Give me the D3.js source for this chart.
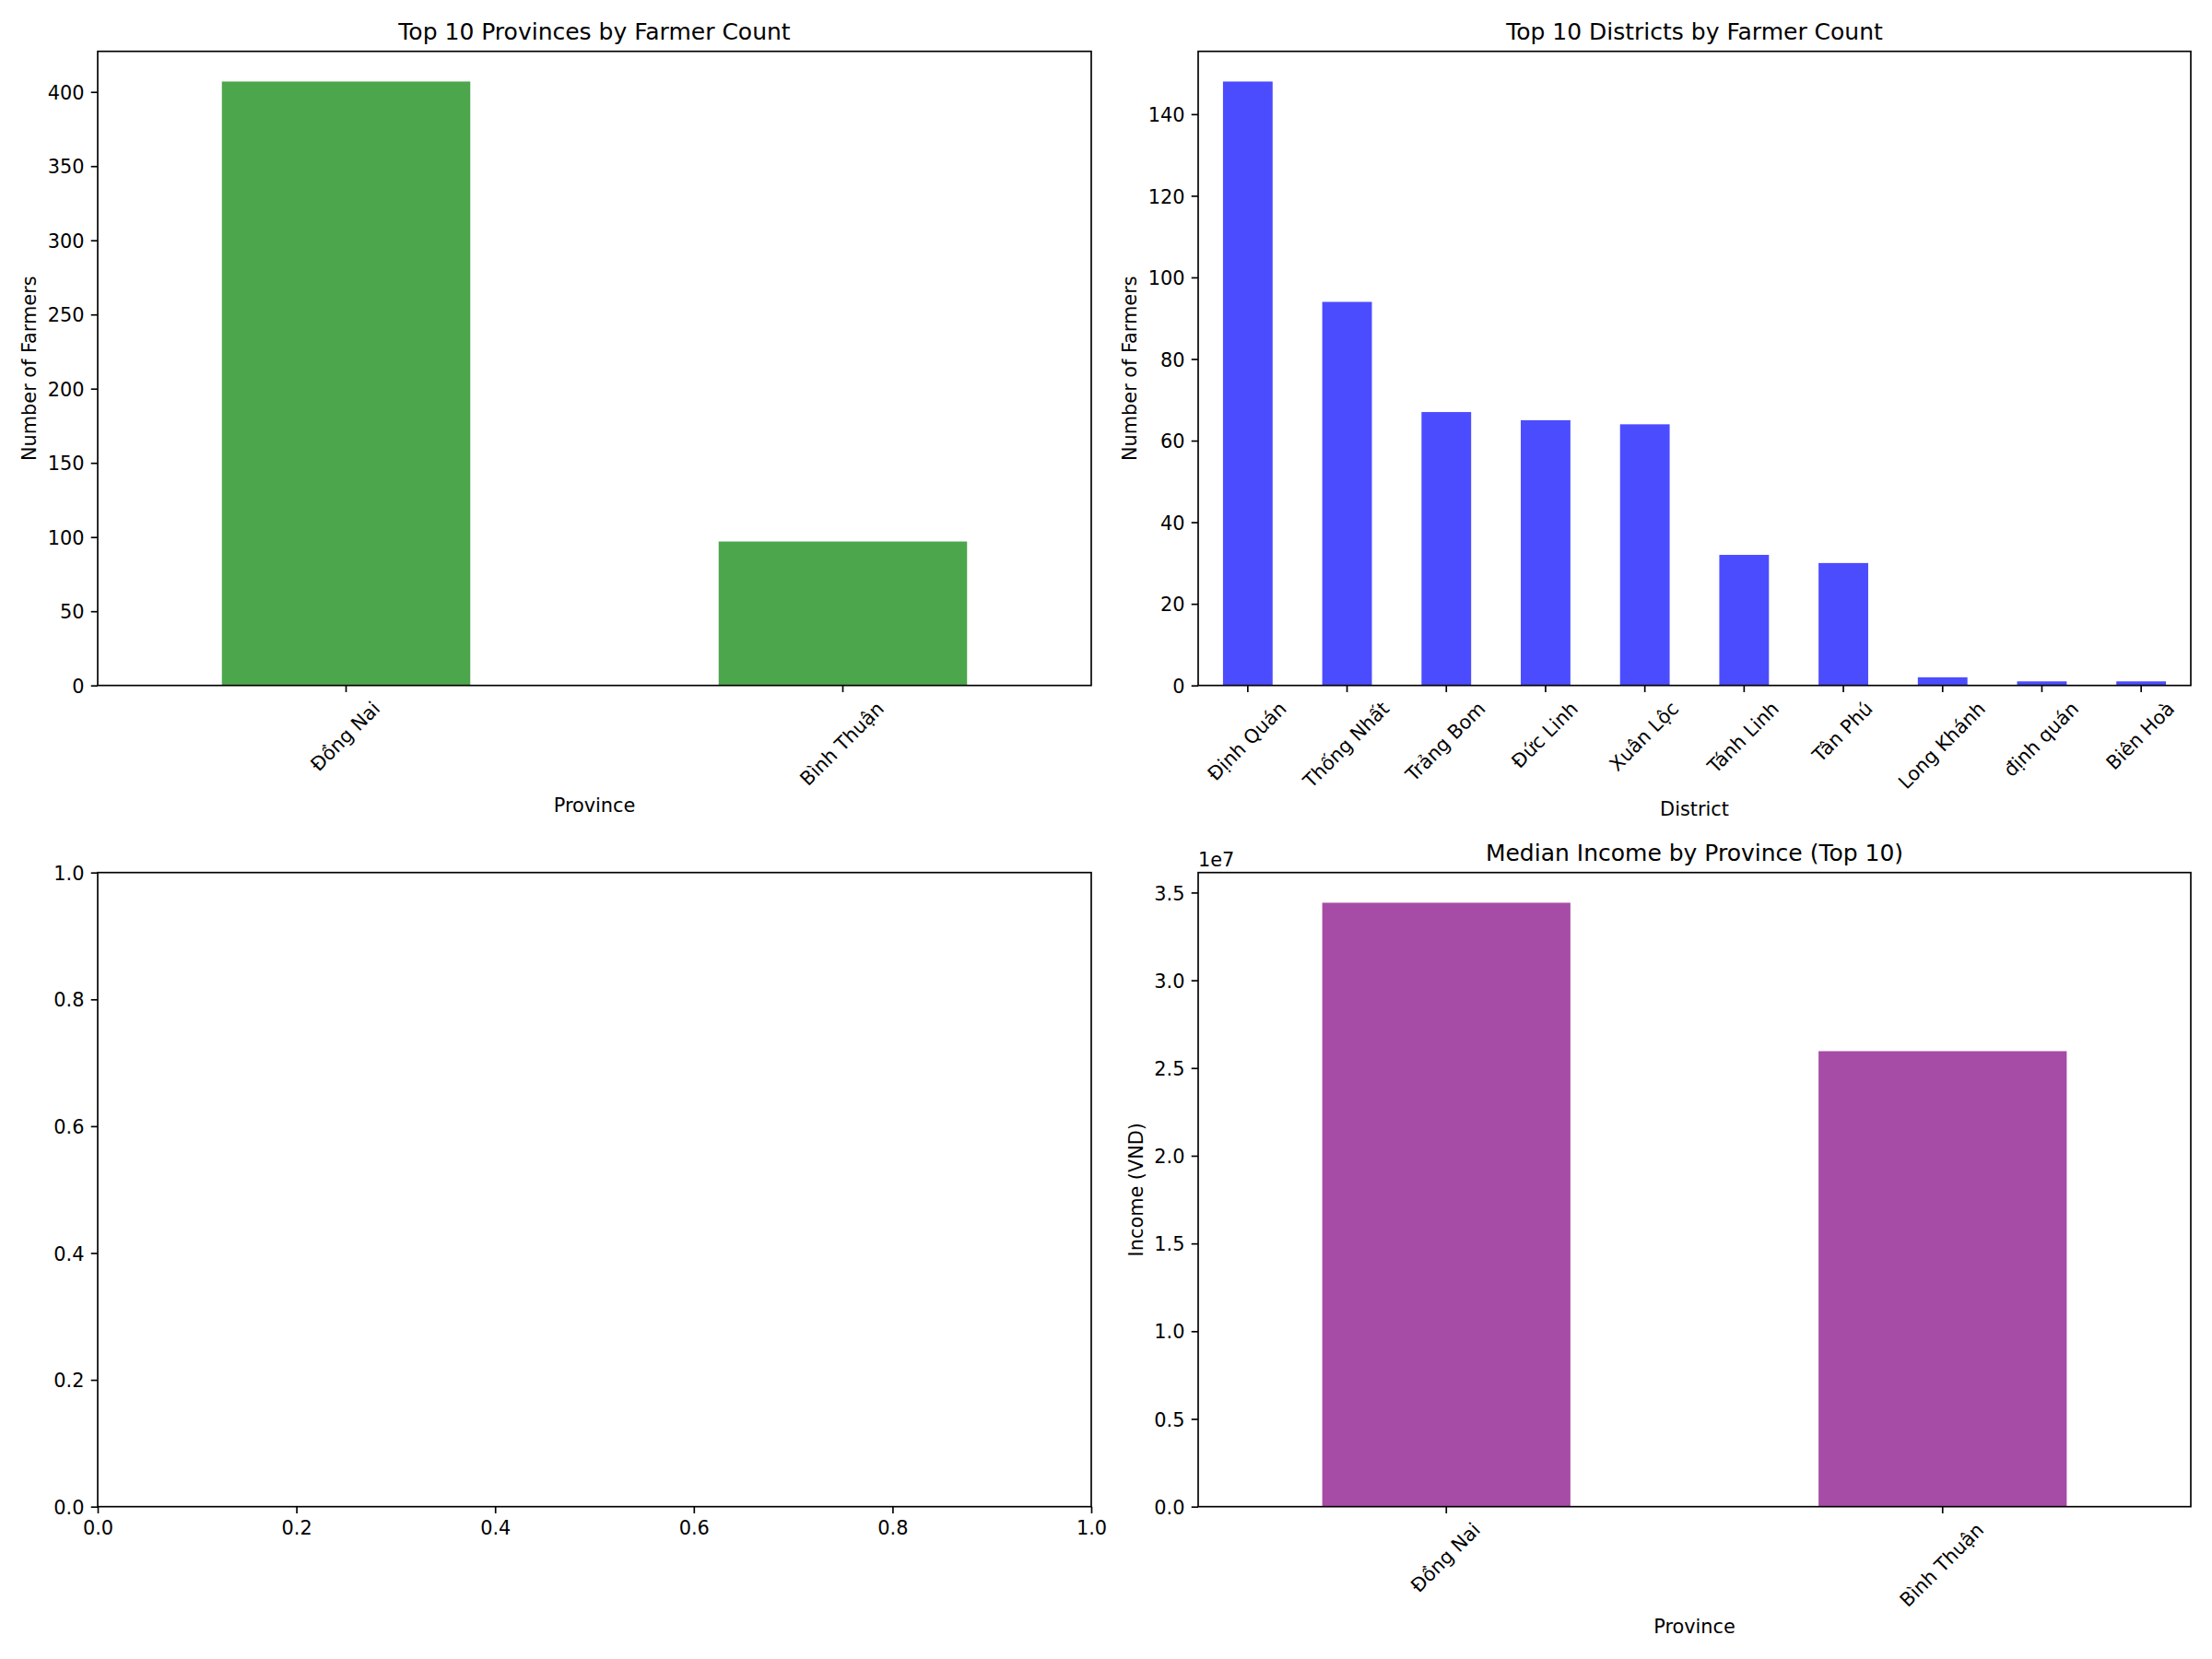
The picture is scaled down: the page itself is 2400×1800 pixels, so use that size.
<!DOCTYPE html>
<html lang="en">
<head>
    <meta charset="UTF-8">
    <script src="https://d3js.org/d3.v7.min.js"></script>
    <title>Farmer Summary</title>
    <style>
        body { margin: 0; background: white; }
        svg { display: block; }
        text { font-family: "DejaVu Sans", sans-serif; fill: black; }
    </style>
</head>
<body>
    <div id="chart"></div>
    <script>
        // data
        const provinceNames = ["Đồng Nai", "Bình Thuận"];
        const provinceCounts = [407, 97];

        const districtNames = ["Định Quán", "Thống Nhất", "Trảng Bom", "Đức Linh", "Xuân Lộc",
            "Tánh Linh", "Tân Phú", "Long Khánh", "định quán", "Biên Hoà"];
        const districtCounts = [148, 94, 67, 65, 64, 32, 30, 2, 1, 1];

        const incomeProvinces = ["Đồng Nai", "Bình Thuận"];
        const medianIncome = [34420000, 25960000];

        const emptyTicks = [0, 0.2, 0.4, 0.6, 0.8, 1.0];

        // matplotlib at 150 dpi
        const px = pt => pt * 150 / 72;
        const FS = px(10);
        const TITLE_FS = px(12);
        const TICK = px(3.5);
        const LW = px(0.8);
        const LABELPAD = px(4);

        const svg = d3.select("#chart").append("svg")
            .attr("width", 2400)
            .attr("height", 1800);
        svg.append("rect").attr("width", 2400).attr("height", 1800).attr("fill", "white");

        const cols = [[106, 1184], [1300, 2377]];
        const rows = [[55.7, 743.7], [946.7, 1634.7]];

        const drawPanel = (cfg) => {
            const [x0, x1] = cfg.cols;
            const [y0, y1] = cfg.rows;
            const g = svg.append("g");

            let x, y;
            if (cfg.cats) {
                x = d3.scaleBand().domain(cfg.cats).range([x0, x1])
                    .paddingInner(0.5).paddingOuter(0.25);
                y = d3.scaleLinear().domain([0, d3.max(cfg.vals) * 1.05]).range([y1, y0]);

                g.selectAll("rect.bar")
                    .data(cfg.cats)
                    .enter()
                    .append("rect")
                    .attr("class", "bar")
                    .attr("x", d => x(d))
                    .attr("width", x.bandwidth())
                    .attr("y", (d, i) => y(cfg.vals[i]))
                    .attr("height", (d, i) => y1 - y(cfg.vals[i]))
                    .attr("fill", cfg.color)
                    .attr("fill-opacity", 0.7);
            } else {
                x = d3.scaleLinear().domain([0, 1]).range([x0, x1]);
                y = d3.scaleLinear().domain([0, 1]).range([y1, y0]);
            }

            // y axis
            const yAxis = d3.axisLeft(y)
                .tickSizeInner(TICK).tickSizeOuter(0).tickPadding(TICK)
                .tickFormat(cfg.yFormat);
            if (cfg.yTicks) yAxis.tickValues(cfg.yTicks); else yAxis.ticks(8);
            const gy = g.append("g")
                .attr("transform", `translate(${x0},0)`)
                .call(yAxis)
                .attr("font-family", "DejaVu Sans")
                .attr("font-size", FS);
            gy.select(".domain").remove();
            gy.selectAll("line").attr("stroke", "black").attr("stroke-width", LW);
            gy.selectAll("text").attr("dy", "0.365em");
            let maxW = 0;
            gy.selectAll("text").each(function () {
                maxW = Math.max(maxW, this.getComputedTextLength());
            });

            // x axis
            let xAxis;
            if (cfg.cats) {
                xAxis = d3.axisBottom(x).tickSizeInner(TICK).tickSizeOuter(0).tickPadding(TICK);
            } else {
                xAxis = d3.axisBottom(x).tickValues(cfg.xTicks).tickFormat(d3.format(".1f"))
                    .tickSizeInner(TICK).tickSizeOuter(0).tickPadding(TICK);
            }
            const gx = g.append("g")
                .attr("transform", `translate(0,${y1})`)
                .call(xAxis)
                .attr("font-family", "DejaVu Sans")
                .attr("font-size", FS);
            gx.select(".domain").remove();
            gx.selectAll("line").attr("stroke", "black").attr("stroke-width", LW);

            let maxH = FS * 0.968;
            if (cfg.cats) {
                const hBox = FS * 1.05;
                gx.selectAll("text").each(function () {
                    const w = this.getComputedTextLength();
                    const H = (w + hBox) * Math.SQRT1_2;
                    maxH = Math.max(maxH, H);
                    d3.select(this)
                        .attr("y", null)
                        .attr("dy", "0.28em")
                        .attr("transform", `translate(0,${2 * TICK + H / 2}) rotate(-45)`);
                });
            } else {
                gx.selectAll("text").attr("y", 2 * TICK).attr("dy", "0.76em");
            }

            // frame
            g.append("rect")
                .attr("x", x0).attr("y", y0)
                .attr("width", x1 - x0).attr("height", y1 - y0)
                .attr("fill", "none")
                .attr("stroke", "black")
                .attr("stroke-width", LW);

            if (cfg.title) {
                g.append("text")
                    .attr("x", (x0 + x1) / 2)
                    .attr("y", y0 - px(6))
                    .attr("text-anchor", "middle")
                    .attr("font-size", TITLE_FS)
                    .text(cfg.title);
            }
            if (cfg.xlabel) {
                g.append("text")
                    .attr("x", (x0 + x1) / 2)
                    .attr("y", y1 + 2 * TICK + maxH + LABELPAD + FS * 0.76)
                    .attr("text-anchor", "middle")
                    .attr("font-size", FS)
                    .text(cfg.xlabel);
            }
            if (cfg.ylabel) {
                const bx = x0 - 2 * TICK - maxW - LABELPAD - FS * 0.208;
                g.append("text")
                    .attr("transform", `translate(${bx},${(y0 + y1) / 2}) rotate(-90)`)
                    .attr("text-anchor", "middle")
                    .attr("font-size", FS)
                    .text(cfg.ylabel);
            }
            if (cfg.offset) {
                g.append("text")
                    .attr("x", x0)
                    .attr("y", y0 - 6.7)
                    .attr("font-size", FS)
                    .text(cfg.offset);
            }
        };

        drawPanel({
            cols: cols[0], rows: rows[0],
            cats: provinceNames, vals: provinceCounts, color: "green",
            title: "Top 10 Provinces by Farmer Count",
            xlabel: "Province", ylabel: "Number of Farmers",
            yFormat: d3.format("d")
        });

        drawPanel({
            cols: cols[1], rows: rows[0],
            cats: districtNames, vals: districtCounts, color: "blue",
            title: "Top 10 Districts by Farmer Count",
            xlabel: "District", ylabel: "Number of Farmers",
            yFormat: d3.format("d")
        });

        drawPanel({
            cols: cols[0], rows: rows[1],
            xTicks: emptyTicks, yTicks: emptyTicks,
            yFormat: d3.format(".1f")
        });

        drawPanel({
            cols: cols[1], rows: rows[1],
            cats: incomeProvinces, vals: medianIncome, color: "purple",
            title: "Median Income by Province (Top 10)",
            xlabel: "Province", ylabel: "Income (VND)",
            yFormat: d => d3.format(".1f")(d / 1e7),
            offset: "1e7"
        });
    </script>
</body>
</html>
